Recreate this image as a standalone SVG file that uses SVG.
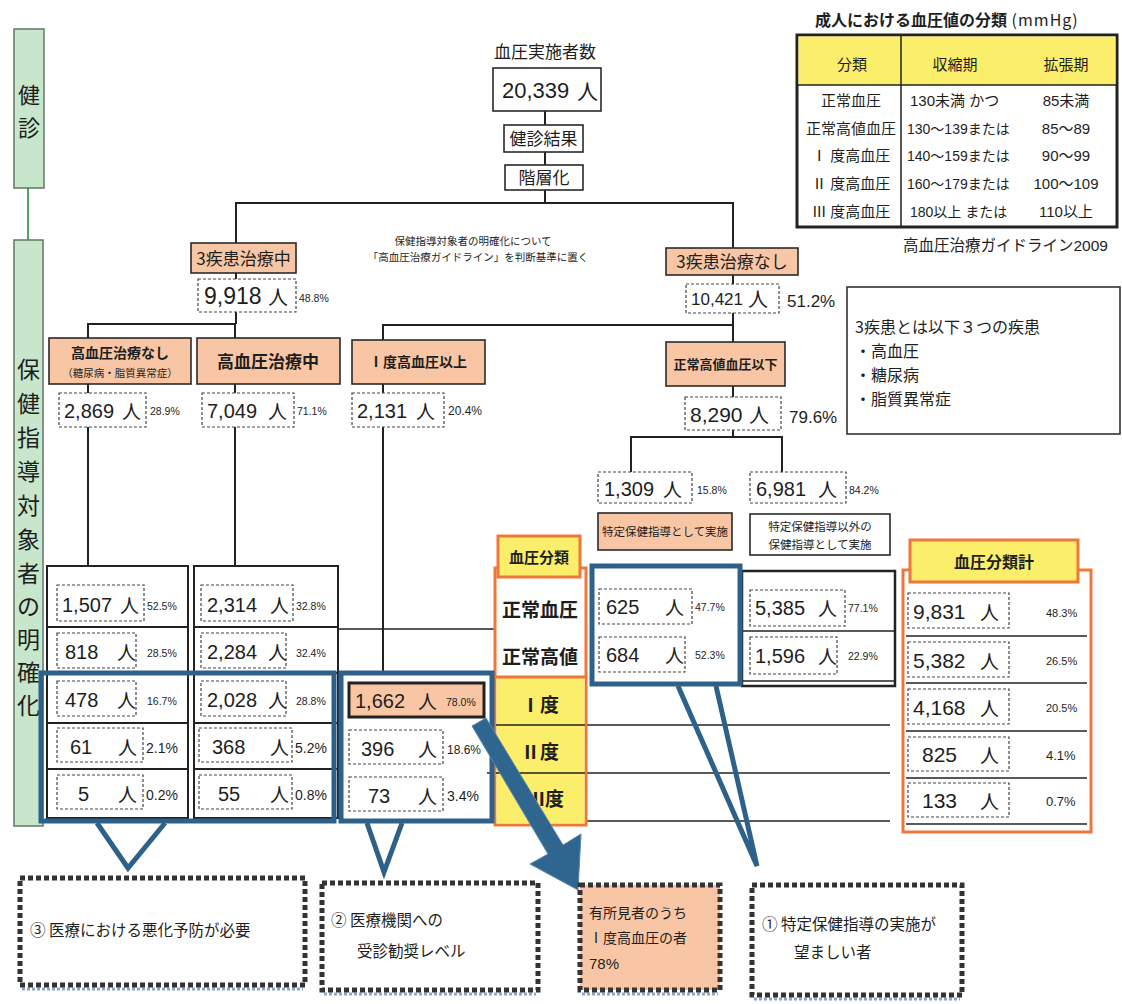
<svg xmlns="http://www.w3.org/2000/svg" width="1122" height="1004" viewBox="0 0 1122 1004">
<style>
text{font-family:"Liberation Sans","Noto Sans CJK JP",sans-serif;fill:#1e1e1e}
.jp{font-family:"Noto Sans CJK JP",sans-serif}
.m{text-anchor:middle}
.b{font-weight:700}
.box{fill:#fff;stroke:#2a2a2a;stroke-width:1.6}
.pe{fill:#f8c6a4;stroke:#2a2a2a;stroke-width:1.6}
.ds{fill:#fff;stroke:#444;stroke-width:1.2;stroke-dasharray:3 2}
.ln{stroke:#222;stroke-width:2;fill:none}
.bl{fill:none;stroke:#2e6189;stroke-width:5;stroke-linejoin:miter}
.or{stroke:#f0773a;stroke-width:3}
.ye{fill:#fbee6a}
.gr{fill:#c8e6cc;stroke:#6a7f6c;stroke-width:1.6}
.dot{stroke:#333;stroke-width:5;stroke-dasharray:5 3}
.n{font-size:20px}
.p{font-size:10.5px}
.p2{font-size:14px}
</style>

<!-- left side bars -->
<g id="bar-kenshin">
<rect class="gr" x="14" y="29" width="30" height="159"/>
<text class="jp m" x="29" y="103" font-size="22">健</text>
<text class="jp m" x="29" y="136" font-size="22">診</text>
</g>
<line x1="28" y1="188" x2="28" y2="240" stroke="#2e8b3e" stroke-width="1.6"/>
<g id="bar-hoken">
<rect class="gr" x="14" y="240" width="29" height="586"/>
<text class="jp m" x="28.5" y="378" font-size="23">保</text>
<text class="jp m" x="28.5" y="412" font-size="23">健</text>
<text class="jp m" x="28.5" y="446" font-size="23">指</text>
<text class="jp m" x="28.5" y="480" font-size="23">導</text>
<text class="jp m" x="28.5" y="514" font-size="23">対</text>
<text class="jp m" x="28.5" y="548" font-size="23">象</text>
<text class="jp m" x="28.5" y="582" font-size="23">者</text>
<text class="jp m" x="28.5" y="615" font-size="23">の</text>
<text class="jp m" x="28.5" y="648" font-size="23">明</text>
<text class="jp m" x="28.5" y="681" font-size="23">確</text>
<text class="jp m" x="28.5" y="714" font-size="23">化</text>
</g>

<!-- connectors -->
<g id="connectors" class="ln">
<line x1="545" y1="111" x2="545" y2="125"/>
<line x1="545" y1="152" x2="545" y2="165"/>
<line x1="545" y1="190" x2="545" y2="203"/>
<polyline points="236,243 236,203 733,203 733,248"/>
<line x1="236" y1="273" x2="236" y2="279"/>
<polyline points="88,338 88,324 235,324 235,338"/>
<line x1="236" y1="312" x2="236" y2="324"/>
<line x1="88" y1="384" x2="88" y2="393"/>
<line x1="88" y1="427" x2="88" y2="566"/>
<line x1="235" y1="384" x2="235" y2="393"/>
<line x1="235" y1="427" x2="235" y2="566"/>
<polyline points="383,340 383,325 733,325"/>
<line x1="383" y1="384" x2="383" y2="393"/>
<line x1="383" y1="427" x2="383" y2="673"/>
<line x1="733" y1="275" x2="733" y2="284"/>
<line x1="733" y1="313" x2="733" y2="342"/>
<line x1="733" y1="386" x2="733" y2="397"/>
<polyline points="631,472 631,437 782,437 782,472"/>
<line x1="733" y1="430" x2="733" y2="437"/>
<line x1="338" y1="629" x2="495" y2="629" stroke-width="1.6"/>
<line x1="487" y1="725" x2="890" y2="725" stroke-width="1.6"/>
<line x1="487" y1="773" x2="890" y2="773" stroke-width="1.6"/>
<line x1="487" y1="821" x2="890" y2="821" stroke-width="1.6"/>
</g>

<!-- top -->
<g id="n-total">
<text class="jp m" x="545" y="58" font-size="17">血圧実施者数</text>
<rect class="box" x="493" y="68" width="108" height="43"/>
<text x="502" y="98" font-size="22">20,339</text>
<text class="jp" x="577" y="99" font-size="21">人</text>
</g>
<g id="n-kekka"><rect class="box" x="504" y="125" width="79" height="27"/><text class="jp m" x="543.5" y="145" font-size="17">健診結果</text></g>
<g id="n-kaiso"><rect class="box" x="505" y="165" width="78" height="25"/><text class="jp m" x="544" y="184" font-size="17">階層化</text></g>
<g id="note-center">
<text class="jp m" x="473" y="245" font-size="10.5">保健指導対象者の明確化について</text>
<text class="jp m" x="478" y="261" font-size="10.5">「高血圧治療ガイドライン」を判断基準に置く</text>
</g>

<g id="n-chiryochu"><rect class="pe" x="191" y="243" width="105" height="30"/><text class="jp m" x="243.5" y="265" font-size="17">3疾患治療中</text></g>
<g id="n-9918"><rect class="ds" x="198" y="279" width="98" height="33"/><text x="204" y="304" font-size="23">9,918</text><text class="jp" x="268" y="305" font-size="20">人</text><text class="p" x="299" y="302">48.8%</text></g>

<g id="n-koketsu-nashi"><rect class="pe" x="49" y="338" width="142" height="46"/><text class="jp m b" x="120" y="358" font-size="14">高血圧治療なし</text><text class="jp m" x="120" y="377" font-size="10.5">（糖尿病・脂質異常症）</text></g>
<g id="n-koketsu-chu"><rect class="pe" x="197" y="338" width="143" height="46"/><text class="jp m b" x="268" y="368" font-size="17">高血圧治療中</text></g>
<g id="n-1do-ijo"><rect class="pe" x="352" y="340" width="133" height="44"/><text class="jp m b" x="418" y="367" font-size="14">Ⅰ度高血圧以上</text></g>

<g id="n-2869"><rect class="ds" x="59" y="393" width="87" height="34"/><text class="n" x="64" y="418">2,869</text><text class="jp" x="122" y="419" font-size="19">人</text><text class="p" x="150" y="415">28.9%</text></g>
<g id="n-7049"><rect class="ds" x="202" y="393" width="92" height="34"/><text class="n" x="207" y="418">7,049</text><text class="jp" x="268" y="419" font-size="19">人</text><text class="p" x="297" y="415">71.1%</text></g>
<g id="n-2131"><rect class="ds" x="352" y="393" width="92" height="34"/><text class="n" x="357" y="418">2,131</text><text class="jp" x="416" y="419" font-size="19">人</text><text x="448" y="415" font-size="12">20.4%</text></g>

<g id="n-nashi"><rect class="pe" x="666" y="248" width="132" height="27"/><text class="jp m" x="732" y="268" font-size="17">3疾患治療なし</text></g>
<g id="n-10421"><rect class="ds" x="686" y="284" width="93" height="29"/><text x="691" y="305" font-size="17">10,421</text><text class="jp" x="748" y="307" font-size="20">人</text><text x="787" y="307" font-size="17" fill="#3b4a5a">51.2%</text></g>
<g id="n-seijo-ika"><rect class="pe" x="666" y="342" width="119" height="44"/><text class="jp m b" x="725.5" y="369" font-size="13">正常高値血圧以下</text></g>
<g id="n-8290"><rect class="ds" x="685" y="397" width="96" height="33"/><text x="690" y="422" font-size="21">8,290</text><text class="jp" x="749" y="423" font-size="20">人</text><text x="789" y="423" font-size="17" fill="#3b4a5a">79.6%</text></g>

<g id="note-3shikkan">
<rect x="847" y="287" width="273" height="147" fill="#fff" stroke="#333" stroke-width="1.6"/>
<text class="jp" x="855" y="333" font-size="16">3疾患とは以下３つの疾患</text>
<text class="jp" x="855" y="357" font-size="16">・高血圧</text>
<text class="jp" x="855" y="381" font-size="16">・糖尿病</text>
<text class="jp" x="855" y="405" font-size="16">・脂質異常症</text>
</g>

<g id="n-1309"><rect class="ds" x="598" y="472" width="94" height="31"/><text class="n" x="604" y="496">1,309</text><text class="jp" x="663" y="497" font-size="19">人</text><text class="p" x="697" y="494">15.8%</text></g>
<g id="n-6981"><rect class="ds" x="750" y="472" width="96" height="31"/><text class="n" x="756" y="496">6,981</text><text class="jp" x="818" y="497" font-size="19">人</text><text class="p" x="849" y="494">84.2%</text></g>
<g id="n-tokutei"><rect class="pe" x="598" y="513" width="134" height="37"/><text class="jp m" x="665" y="536" font-size="11.5">特定保健指導として実施</text></g>
<g id="n-igai"><rect class="box" x="750" y="514" width="140" height="41"/><text class="jp m" x="820" y="531" font-size="11.5">特定保健指導以外の</text><text class="jp m" x="820" y="549" font-size="11.5">保健指導として実施</text></g>

<!-- top-right table -->
<g id="bp-table">
<text x="815" y="26" font-size="16"><tspan class="jp b">成人における血圧値の分類</tspan><tspan class="jp" letter-spacing="1"> (mmHg)</tspan></text>
<rect x="797" y="35" width="320" height="192" fill="#fff" stroke="#222" stroke-width="3"/>
<rect class="ye" x="798.5" y="36.5" width="317" height="48.5"/>
<line x1="797" y1="85" x2="1117" y2="85" stroke="#222" stroke-width="1.5"/>
<line x1="901" y1="35" x2="901" y2="227" stroke="#222" stroke-width="1.5"/>
<g font-size="15">
<text class="jp m" x="852" y="70">分類</text>
<text class="jp m" x="955" y="70">収縮期</text>
<text class="jp m" x="1066" y="70">拡張期</text>
<text class="jp m" x="851" y="106">正常血圧</text>
<text class="jp m" x="851" y="134">正常高値血圧</text>
<text class="jp m" x="851" y="161">Ⅰ 度高血圧</text>
<text class="jp m" x="851" y="189">Ⅱ 度高血圧</text>
<text class="jp m" x="851" y="217">Ⅲ 度高血圧</text>
<text x="910" y="106">130未満 かつ</text>
<text x="907" y="134" font-size="14">130〜139または</text>
<text x="907" y="161" font-size="14">140〜159または</text>
<text x="907" y="189" font-size="14">160〜179または</text>
<text x="910" y="217" font-size="14">180以上 または</text>
<text class="m" x="1066" y="106">85未満</text>
<text class="m" x="1066" y="134">85〜89</text>
<text class="m" x="1066" y="161">90〜99</text>
<text class="m" x="1066" y="189">100〜109</text>
<text class="m" x="1066" y="217">110以上</text>
</g>
<text x="903" y="251" font-size="15.5">高血圧治療ガイドライン2009</text>
</g>

<!-- left tables -->
<g id="tbl-left1">
<rect x="47" y="566" width="141" height="252" fill="#fff" stroke="#222" stroke-width="2"/>
<g class="ln" stroke-width="1.6"><line x1="47" y1="627" x2="188" y2="627"/><line x1="47" y1="673" x2="188" y2="673"/><line x1="47" y1="723" x2="188" y2="723"/><line x1="47" y1="769" x2="188" y2="769"/></g>
<rect class="ds" x="57" y="585" width="87" height="36"/><text class="n" x="62" y="612">1,507</text><text class="jp" x="120" y="613" font-size="19">人</text><text class="p" x="147" y="610">52.5%</text>
<rect class="ds" x="57" y="633" width="79" height="35"/><text class="n" x="65" y="659">818</text><text class="jp" x="117" y="660" font-size="19">人</text><text class="p" x="147" y="657">28.5%</text>
<rect class="ds" x="57" y="681" width="79" height="35"/><text class="n" x="65" y="707">478</text><text class="jp" x="117" y="708" font-size="19">人</text><text class="p" x="147" y="705">16.7%</text>
<rect class="ds" x="57" y="728" width="86" height="34"/><text class="n" x="70" y="754">61</text><text class="jp" x="118" y="755" font-size="19">人</text><text class="p2" x="146" y="753">2.1%</text>
<rect class="ds" x="57" y="775" width="86" height="34"/><text class="n" x="78" y="801">5</text><text class="jp" x="118" y="802" font-size="19">人</text><text class="p2" x="146" y="800">0.2%</text>
</g>
<g id="tbl-left2">
<rect x="194" y="566" width="144" height="252" fill="#fff" stroke="#222" stroke-width="2"/>
<g class="ln" stroke-width="1.6"><line x1="194" y1="627" x2="338" y2="627"/><line x1="194" y1="673" x2="338" y2="673"/><line x1="194" y1="723" x2="338" y2="723"/><line x1="194" y1="769" x2="338" y2="769"/></g>
<rect class="ds" x="201" y="585" width="92" height="36"/><text class="n" x="207" y="612">2,314</text><text class="jp" x="270" y="613" font-size="19">人</text><text class="p" x="296" y="610">32.8%</text>
<rect class="ds" x="201" y="633" width="85" height="35"/><text class="n" x="207" y="659">2,284</text><text class="jp" x="268" y="660" font-size="19">人</text><text class="p" x="296" y="657">32.4%</text>
<rect class="ds" x="201" y="681" width="85" height="35"/><text class="n" x="207" y="707">2,028</text><text class="jp" x="268" y="708" font-size="19">人</text><text class="p" x="296" y="705">28.8%</text>
<rect class="ds" x="199" y="728" width="93" height="34"/><text class="n" x="212" y="754">368</text><text class="jp" x="270" y="755" font-size="19">人</text><text class="p2" x="295" y="753">5.2%</text>
<rect class="ds" x="199" y="775" width="93" height="34"/><text class="n" x="218" y="801">55</text><text class="jp" x="270" y="802" font-size="19">人</text><text class="p2" x="295" y="800">0.8%</text>
</g>

<!-- middle column -->
<g id="tbl-mid">
<rect x="349" y="683" width="135" height="34" fill="#f8c6a4" stroke="#222" stroke-width="3"/>
<text class="n" x="355" y="708">1,662</text><text class="jp" x="418" y="709" font-size="19">人</text><text class="p" x="446" y="706">78.0%</text>
<rect class="ds" x="349" y="730" width="94" height="34"/><text class="n" x="361" y="756">396</text><text class="jp" x="418" y="757" font-size="19">人</text><text x="447" y="754" font-size="12">18.6%</text>
<rect class="ds" x="349" y="777" width="94" height="34"/><text class="n" x="368" y="803">73</text><text class="jp" x="418" y="804" font-size="19">人</text><text class="p2" x="447" y="801">3.4%</text>
</g>

<!-- 血圧分類 column -->
<g id="col-bunrui">
<rect x="495" y="568" width="91" height="257" fill="#fff" class="or"/>
<rect class="ye" x="496.5" y="677" width="88" height="146.5"/>
<line x1="495" y1="677" x2="586" y2="677" class="or" stroke-width="2"/>
<line x1="496" y1="725" x2="585" y2="725" stroke="#222" stroke-width="1.6"/>
<line x1="496" y1="773" x2="585" y2="773" stroke="#222" stroke-width="1.6"/>
<rect class="ye or" x="498" y="536" width="82" height="41"/>
<text class="jp m b" x="539" y="563" font-size="15">血圧分類</text>
<text class="jp m b" x="540" y="617" font-size="19">正常血圧</text>
<text class="jp m b" x="540" y="664" font-size="19">正常高値</text>
<text class="jp m b" x="540" y="712" font-size="19">Ⅰ度</text>
<text class="jp m b" x="540" y="759" font-size="19">Ⅱ度</text>
<text class="jp m b" x="545" y="806" font-size="19">Ⅲ度</text>
</g>

<!-- right tables -->
<g id="tbl-tokutei">
<rect class="ds" x="599" y="589" width="93" height="35"/>
<text class="n" x="606" y="614">625</text><text class="jp" x="665" y="615" font-size="19">人</text><text class="p" x="695" y="611">47.7%</text>
<rect class="ds" x="599" y="637" width="86" height="35"/>
<text class="n" x="606" y="662">684</text><text class="jp" x="665" y="663" font-size="19">人</text><text class="p" x="695" y="659">52.3%</text>
</g>
<g id="tbl-igai">
<rect x="742" y="571" width="153" height="115" fill="none" stroke="#222" stroke-width="2.5"/>
<line x1="742" y1="631" x2="895" y2="631" stroke="#222" stroke-width="1.6"/>
<line x1="742" y1="681" x2="895" y2="681" stroke="#222" stroke-width="1.6"/>
<rect class="ds" x="750" y="590" width="95" height="36"/><text class="n" x="755" y="615">5,385</text><text class="jp" x="818" y="616" font-size="19">人</text><text class="p" x="848" y="612">77.1%</text>
<rect class="ds" x="750" y="637" width="87" height="37"/><text class="n" x="755" y="663">1,596</text><text class="jp" x="818" y="664" font-size="19">人</text><text class="p" x="848" y="660">22.9%</text>
</g>

<g id="tbl-total">
<rect x="903" y="570" width="188" height="262" fill="#fff" class="or"/>
<rect class="ye or" x="910" y="540" width="168" height="42"/>
<text class="jp m b" x="994" y="568" font-size="16">血圧分類計</text>
<g stroke="#222" stroke-width="1.6">
<line x1="906" y1="636" x2="1087" y2="636"/><line x1="906" y1="683" x2="1087" y2="683"/><line x1="906" y1="731" x2="1087" y2="731"/><line x1="906" y1="778" x2="1087" y2="778"/><line x1="906" y1="824" x2="1087" y2="824"/>
</g>
<rect class="ds" x="908" y="593" width="101" height="35"/><text x="913" y="619" font-size="21">9,831</text><text class="jp" x="980" y="620" font-size="19">人</text><text x="1046" y="617" font-size="11">48.3%</text>
<rect class="ds" x="908" y="642" width="101" height="35"/><text x="913" y="668" font-size="21">5,382</text><text class="jp" x="980" y="669" font-size="19">人</text><text x="1046" y="665" font-size="11">26.5%</text>
<rect class="ds" x="908" y="689" width="101" height="35"/><text x="913" y="715" font-size="21">4,168</text><text class="jp" x="980" y="716" font-size="19">人</text><text x="1046" y="712" font-size="11">20.5%</text>
<rect class="ds" x="908" y="737" width="101" height="34"/><text x="922" y="762" font-size="21">825</text><text class="jp" x="980" y="763" font-size="19">人</text><text x="1046" y="760" font-size="13">4.1%</text>
<rect class="ds" x="908" y="783" width="101" height="34"/><text x="922" y="808" font-size="21">133</text><text class="jp" x="980" y="809" font-size="19">人</text><text x="1046" y="806" font-size="13">0.7%</text>
</g>

<!-- blue highlight frames and callouts -->
<g id="hl-left"><rect class="bl" x="41" y="673" width="293" height="148"/><polyline class="bl" points="97,823 128,868 165,823"/></g>
<g id="hl-mid"><rect class="bl" x="341" y="673" width="151" height="148"/><polyline class="bl" points="367,823 384,872 402,823"/></g>
<g id="hl-right"><rect class="bl" x="592" y="566" width="148" height="118"/><polyline class="bl" points="678,686 757,866 716,686"/></g>
<g id="arrow"><polygon points="472,726 486,718 563,845 581,834 578,890 530,864 548,854" fill="#2f6690" stroke="#5a86ad" stroke-width="1"/></g>

<!-- bottom boxes -->
<g id="c3">
<line x1="22" y1="989" x2="303" y2="989" stroke="#8aa6cf" stroke-width="3" stroke-dasharray="3 2"/>
<rect class="dot" x="20" y="878" width="285" height="107" fill="#fff"/>
<text class="jp" x="30" y="936" font-size="15.5">③ 医療における悪化予防が必要</text>
</g>
<g id="c2">
<line x1="324" y1="994" x2="536" y2="994" stroke="#8aa6cf" stroke-width="3" stroke-dasharray="3 2"/>
<rect class="dot" x="322" y="883" width="216" height="107" fill="#fff"/>
<text class="jp" x="331" y="926" font-size="15.5">② 医療機関への</text>
<text class="jp" x="357" y="957" font-size="15.5">受診勧奨レベル</text>
</g>
<g id="c78">
<line x1="582" y1="994" x2="718" y2="994" stroke="#8aa6cf" stroke-width="3" stroke-dasharray="3 2"/>
<rect class="dot" x="580" y="885" width="140" height="105" fill="#f8c6a4"/>
<text class="jp" x="589" y="918" font-size="14">有所見者のうち</text>
<text class="jp" x="589" y="943" font-size="14">Ⅰ度高血圧の者</text>
<text x="589" y="969" font-size="15">78%</text>
</g>
<g id="c1">
<line x1="754" y1="999" x2="960" y2="999" stroke="#8aa6cf" stroke-width="3" stroke-dasharray="3 2"/>
<rect class="dot" x="752" y="885" width="210" height="110" fill="#fff"/>
<text class="jp" x="762" y="930" font-size="15.5">① 特定保健指導の実施が</text>
<text class="jp" x="794" y="958" font-size="15.5">望ましい者</text>
</g>
</svg>
